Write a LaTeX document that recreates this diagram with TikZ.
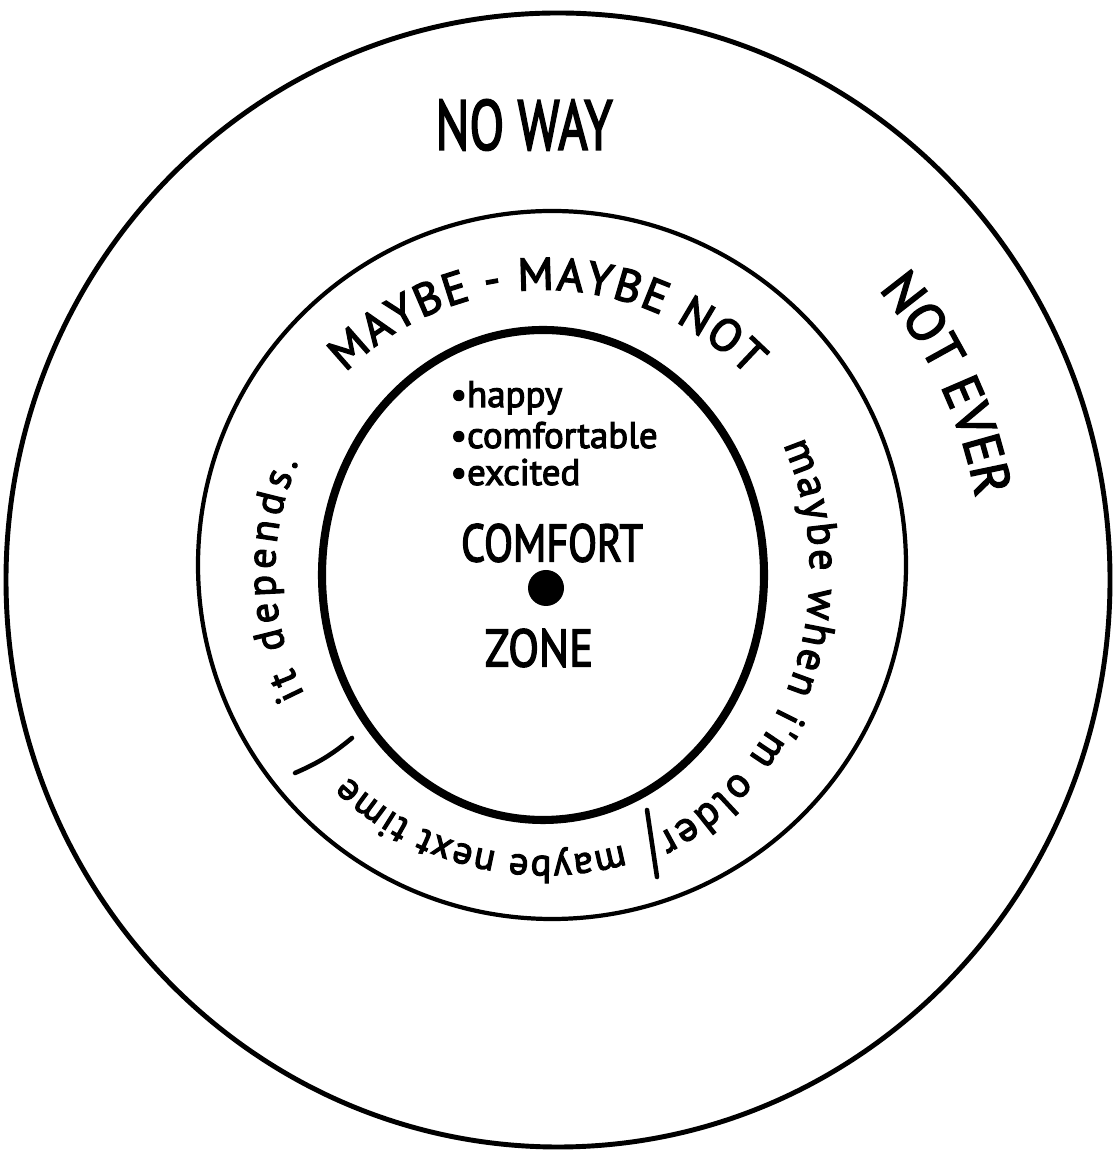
\documentclass[tikz,border=0pt]{standalone}
\usepackage{fontspec}
\setmainfont{PT Sans}
\newfontfamily\handfont{PT Sans}[FakeBold=3]
\usetikzlibrary{decorations.text}

\begin{document}
\begin{tikzpicture}[
    ring/.style={line width=1.2pt},
    bigcaps/.style={font=\fontsize{15}{18}\selectfont\handfont},
    listitem/.style={anchor=base west, font=\fontsize{10.5}{12}\selectfont\handfont},
    arctext/.style 2 args={decorate, decoration={text along path, text align=#1, text={#2}}},
    sep/.style={line width=1.3pt, line cap=round}]
    \useasboundingbox (0,0) rectangle (11.17,11.55);
    \draw[ring, line width=1.4pt] (5.58,5.75) ellipse [x radius=5.52, y radius=5.67];
    \draw[ring] (5.52,5.90) circle [radius=3.54];
    \draw[ring, line width=2.3pt] (5.43,5.80) ellipse [x radius=2.21, y radius=2.45];
    \fill (5.46,5.67) circle [radius=0.18];
    \coordinate (ctr) at (5.45,5.83);

    \node[font=\fontsize{20}{24}\selectfont\handfont] (noway) at (5.24,10.30) {\scalebox{0.72}[1]{NO WAY}};
    \path[arctext={center}{|\fontsize{15}{18}\selectfont\handfont|NOT EVER}]
      ([shift={(45:4.37)}]ctr) arc[start angle=45, end angle=5, radius=4.37];

    \path[arctext={fit to path}{|\fontsize{13}{15}\selectfont\handfont|MAYBE - MAYBE NOT}]
      ([shift={(135:2.82)}]ctr) arc[start angle=135, end angle=44, radius=2.82];
    \path[arctext={fit to path}{|\fontsize{12}{14}\selectfont\handfont|maybe when i'm older}]
      ([shift={(26:2.65 and 2.90)}]ctr) arc[start angle=26, end angle=-65, x radius=2.65, y radius=2.90];
    \path[arctext={fit to path}{|\fontsize{11}{13}\selectfont\handfont|maybe next time}]
      ([shift={(-74:2.84)}]ctr) arc[start angle=-74, end angle=-134, radius=2.84];
    \path[arctext={fit to path}{|\fontsize{11.5}{13}\selectfont\handfont|it depends.}]
      ([shift={(207:2.70)}]ctr) arc[start angle=207, end angle=156, radius=2.70];

    \draw[sep] (2.95,3.82) to[bend right=8] (3.52,4.17);
    \draw[sep] (6.47,3.45) -- (6.57,2.78);

    \node[listitem] (happy) at (4.38,7.48) {\textbullet happy};
    \node[listitem] (comfy) at (4.38,7.07) {\textbullet comfortable};
    \node[listitem] (excited) at (4.38,6.70) {\textbullet excited};
    \node[bigcaps] (comfort) at (5.52,6.12) {\scalebox{0.8}[1]{COMFORT}};
    \node[bigcaps] (zone) at (5.39,5.07) {\scalebox{0.85}[1]{ZONE}};
\end{tikzpicture}
\end{document}
